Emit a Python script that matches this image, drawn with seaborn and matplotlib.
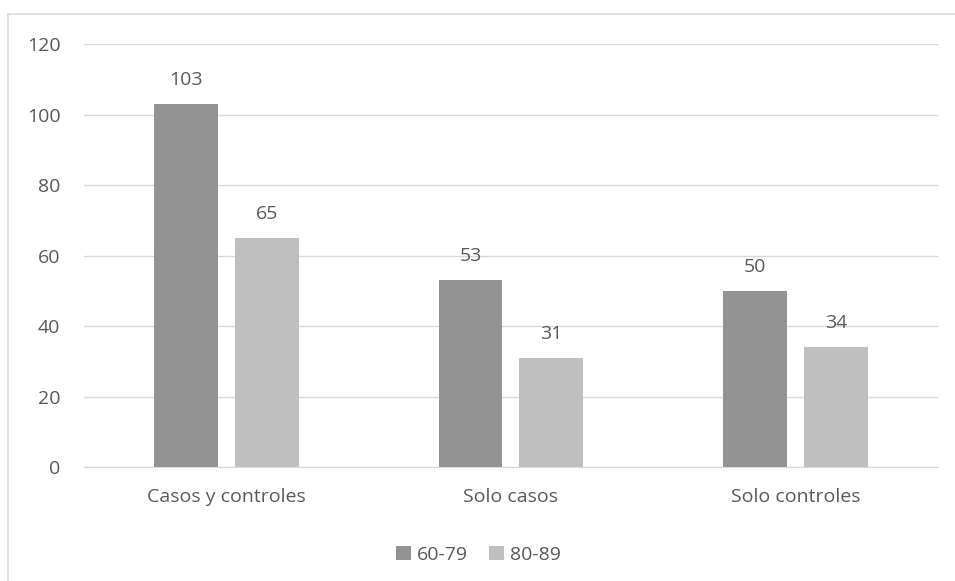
import pandas as pd
import matplotlib.pyplot as plt
import seaborn as sns
from matplotlib.patches import Rectangle

# Data
categories = ['Casos y controles', 'Solo casos', 'Solo controles']
groups = ['60-79', '80-89']
values_60_79 = [103, 53, 50]
values_80_89 = [65, 31, 34]

df = pd.DataFrame({
    'Categoria': categories * 2,
    'Grupo': [groups[0]] * 3 + [groups[1]] * 3,
    'Valor': values_60_79 + values_80_89,
})

palette = {'60-79': '#939393', '80-89': '#BFBFBF'}
text_color = '#595959'
grid_color = '#D9D9D9'
fs = 14

sns.set_style('white')
plt.rcParams['font.family'] = ['Open Sans', 'DejaVu Sans']

fig = plt.figure(figsize=(9.55, 5.81), dpi=100)
ax = fig.add_axes([0.088, 0.196, 0.894, 0.728])

sns.barplot(data=df, x='Categoria', y='Valor', hue='Grupo', palette=palette,
            width=0.568, gap=0.21, saturation=1, linewidth=0, ax=ax, legend=True)

for container in ax.containers:
    ax.bar_label(container, padding=11, fontsize=fs, color=text_color)

ax.set_ylim(0, 120)
ax.set_yticks(range(0, 121, 20))
ax.set_xlabel('')
ax.set_ylabel('')
ax.yaxis.grid(True, color=grid_color, linewidth=1)
ax.set_axisbelow(True)
for side in ['top', 'right', 'left']:
    ax.spines[side].set_visible(False)
ax.spines['bottom'].set_color(grid_color)
ax.tick_params(axis='both', length=0, labelsize=fs, labelcolor=text_color)
ax.tick_params(axis='y', pad=17)
ax.tick_params(axis='x', pad=15)

leg = ax.legend(loc='upper center', bbox_to_anchor=(0.462, -0.145), ncol=2,
                frameon=False, fontsize=fs, handlelength=0.75, handleheight=0.75,
                handletextpad=0.3, columnspacing=1.1)
for t in leg.get_texts():
    t.set_color(text_color)

# chart border
fig.patches.append(Rectangle((8 / 955, -0.01), 1.0, 1 - 14 / 581 + 0.01,
                             transform=fig.transFigure, fill=False,
                             edgecolor=grid_color, linewidth=1.2))

fig.savefig('out.png', dpi=100)
